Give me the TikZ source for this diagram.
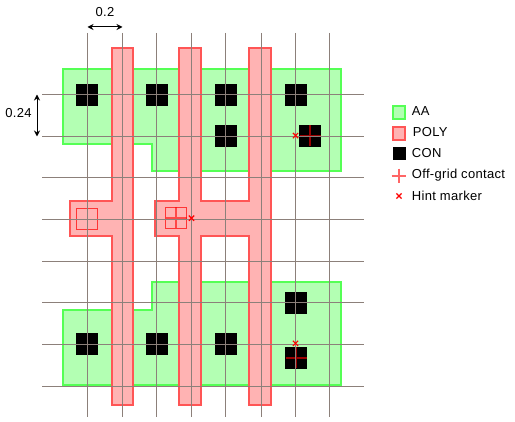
\documentclass[tikz,border=0pt]{standalone}
\usepackage{fontspec}
\setmainfont[LetterSpace=2.5]{Liberation Sans}
\usetikzlibrary{arrows.meta}
\definecolor{aaS}{HTML}{55FF55}
\definecolor{aaF}{HTML}{B3FFB3}
\definecolor{polyS}{HTML}{FF5555}
\definecolor{polyF}{HTML}{FFB3B3}
\definecolor{gridC}{HTML}{8C807A}
\definecolor{mark}{HTML}{FF0000}
\tikzset{
  aashape/.style={draw=aaS,fill=aaF,line width=1.6pt,line join=miter},
  polyshape/.style={draw=polyS,fill=polyF,line width=1.6pt,line join=miter},
  conbox/.style={fill=black,draw=none,minimum size=22pt,inner sep=0pt,outer sep=0pt},
  ghost/.style={draw=mark,draw opacity=.7,line width=1.8pt,minimum size=21pt,inner sep=0pt,outer sep=0pt},
  gridline/.style={draw=gridC,line width=1pt},
  plusline/.style={draw=mark,draw opacity=.6,line width=2pt},
  hintline/.style={draw=mark,line width=1.2pt},
  dimarrow/.style={draw=black,line width=1pt,{Stealth[length=6pt,width=6pt]}-{Stealth[length=6pt,width=6pt]}},
  lab/.style={anchor=west,font=\fontsize{13}{15}\selectfont,inner sep=0pt,text=black},
  dimlab/.style={font=\fontsize{13}{15}\selectfont,inner sep=0pt,text=black}
}
\newcommand{\plusat}[3]{\draw[plusline] ({#1-#3},#2) -- ({#1+#3},#2) (#1,{#2-#3}) -- (#1,{#2+#3});}
\newcommand{\hintat}[2]{\draw[hintline] ({#1-2.6},{#2-2.6}) -- ({#1+2.6},{#2+2.6}) ({#1-2.6},{#2+2.6}) -- ({#1+2.6},{#2-2.6});}
\begin{document}
\begin{tikzpicture}[x=1pt,y=-1pt]
\useasboundingbox (0,0) rectangle (515,422);
% AA
\draw[aashape] (63,69) -- (341,69) -- (341,171) -- (152,171) -- (152,144) -- (63,144) -- cycle;
\draw[aashape] (63,310) -- (152,310) -- (152,282) -- (341,282) -- (341,385) -- (63,385) -- cycle;
% CON
\foreach \p/\q in {87/95,157/95,226/95,296/95,226/136,310/136,87/344,157/344,226/344,296/303,296/358}
  \node[conbox] at (\p,\q) {};
% POLY
\draw[polyshape] (112,48) -- (133,48) -- (133,405) -- (112,405) -- (112,236) -- (70,236) -- (70,201) -- (112,201) -- cycle;
\draw[polyshape] (179,48) -- (201,48) -- (201,201) -- (249,201) -- (249,48) -- (271,48) -- (271,405) -- (249,405) -- (249,236) -- (201,236) -- (201,405) -- (179,405) -- (179,236) -- (155,236) -- (155,201) -- (179,201) -- cycle;
% off-grid contact outlines
\node[ghost] (c1) at (87,219) {};
\node[ghost] (c2) at (176,218) {};
% off-grid crosses
\plusat{176}{218}{10.5}
\plusat{310}{136}{10.5}
\plusat{296}{358}{10.5}
% grid
\foreach \p in {87.5,122.5,156.5,191.5,225.5,261.5,295.5,329.5}
  \draw[gridline] (\p,33) -- (\p,417);
\foreach \q in {94.5,136.5,177.5,219.5,261.5,302.5,344.5,386.5}
  \draw[gridline] (42,\q) -- (364,\q);
% hints
\hintat{191.5}{218.2}
\hintat{295.5}{135.6}
\hintat{295.5}{343.4}
% dimensions
\coordinate (dxa) at (87.5,27);
\coordinate (dxb) at (122.5,27);
\coordinate (dya) at (37,94.5);
\coordinate (dyb) at (37,136.5);
\draw[dimarrow] (dxa) -- (dxb);
\draw[dimarrow] (dya) -- (dyb);
\node[dimlab] (d1) at (105,12) {0.2};
\node[dimlab] (d2) at (18.5,113) {0.24};
% legend
\draw[aashape] (393,106) rectangle (405,119);
\draw[polyshape] (393,127) rectangle (405,140);
\fill[black] (392.5,147) rectangle (405.5,160.5);
\plusat{399}{176}{7.3}
\hintat{399}{196}
\node[lab] (l1) at (411.7,111.5) {AA};
\node[lab] (l2) at (412.7,132.5) {POLY};
\node[lab] (l3) at (411.7,153.5) {CON};
\node[lab] (l4) at (411.7,175) {Off-grid contact};
\node[lab] (l5) at (411.7,195.5) {Hint marker};
\end{tikzpicture}
\end{document}
